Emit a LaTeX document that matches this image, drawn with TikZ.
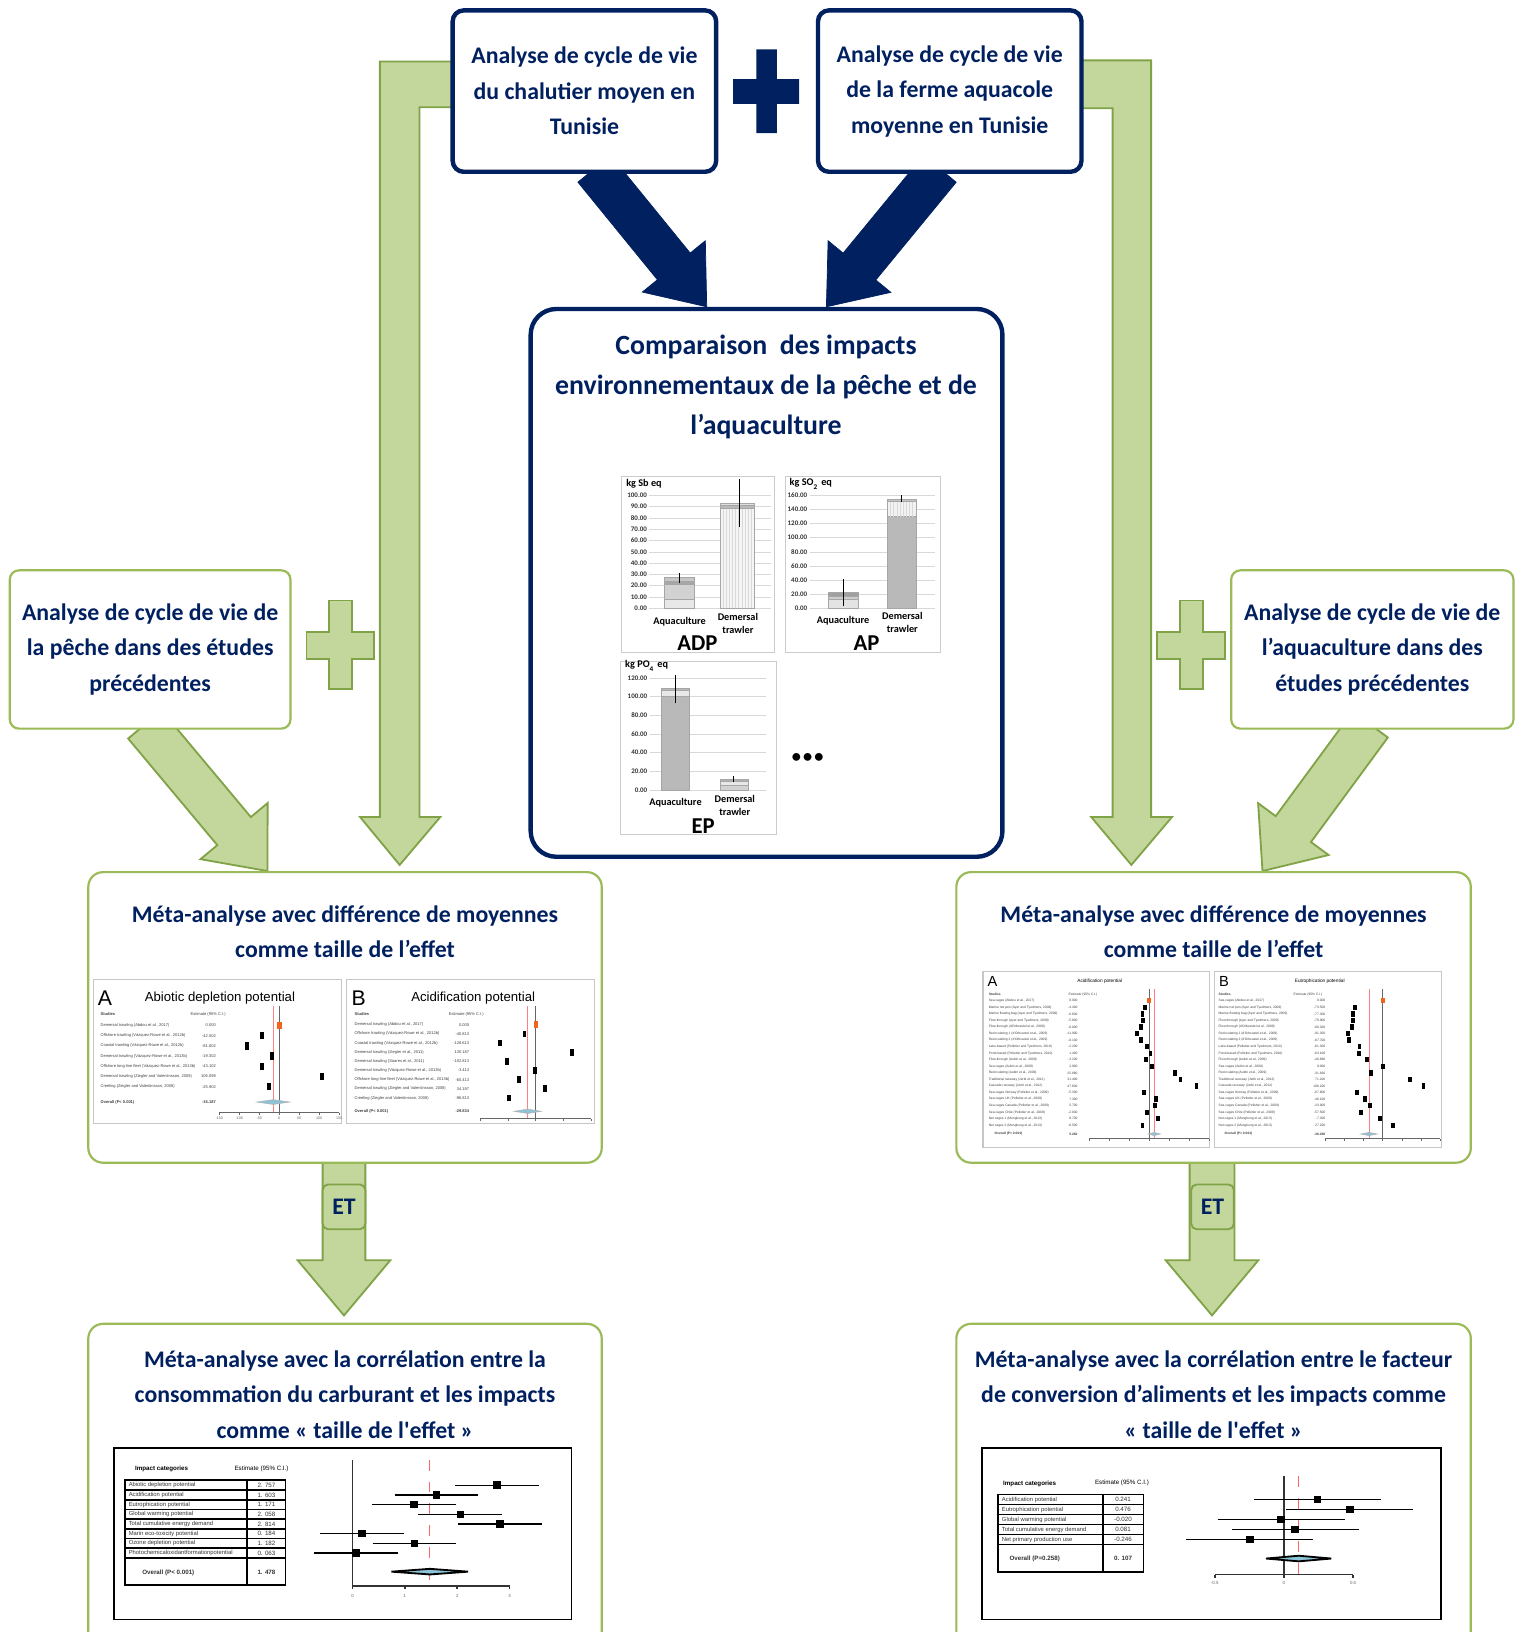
\documentclass[tikz,border=0pt]{standalone}
\usepackage{fontspec}
\setmainfont{Carlito}
\newfontfamily\plotfont{Liberation Sans}
\usetikzlibrary{positioning,calc,backgrounds}

\definecolor{navy}{RGB}{0,32,96}
\definecolor{leaf}{RGB}{195,214,155}
\definecolor{leafline}{RGB}{128,163,72}
\definecolor{boxline}{RGB}{155,187,89}
\definecolor{dotorange}{RGB}{240,100,30}
\definecolor{diamondblue}{RGB}{140,195,215}

\newcommand{\cardfont}{\fontsize{6.5}{9.7}\selectfont\bfseries}
\newcommand{\bigcardfont}{\fontsize{7.6}{10.95}\selectfont\bfseries}
% style, start, tip, half shaft, half head, head length
\newcommand{\blockarrow}[6]{%
  \coordinate (ba-back) at ($(#3)!#6!(#2)$);
  \filldraw[#1] ($(#2)!#4!90:(#3)$) -- ($(ba-back)!#4!90:(#3)$) -- ($(ba-back)!#5!90:(#3)$)
    -- (#3) -- ($(ba-back)!#5!-90:(#3)$) -- ($(ba-back)!#4!-90:(#3)$) -- ($(#2)!#4!-90:(#3)$) -- cycle;}

\tikzset{
  navybox/.style={draw=navy, line width=1.2pt, fill=white, rounded corners=3pt, text=navy, font=\cardfont, align=center},
  greenbox/.style={draw=boxline, line width=0.6pt, fill=white, rounded corners=2.5pt, text=navy, font=\cardfont, align=center},
  boxtitle/.style={text=navy, font=\cardfont, align=center},
  navyarrow/.style={fill=navy, draw=navy, line width=0.2pt},
  greenarrow/.style={fill=leaf, draw=leafline, line width=0.5pt},
  etbox/.style={fill=leaf, draw=leafline, line width=0.5pt, rounded corners=1.5pt, text=navy, font=\cardfont, inner sep=0pt},
  chartframe/.style={draw=gray!40, fill=white, line width=0.3pt},
  gridline/.style={draw=gray!30, line width=0.15pt},
  barline/.style={draw=gray!70, line width=0.15pt},
  errbar/.style={draw=black, line width=0.3pt},
  charttick/.style={font=\fontsize{1.9}{2.2}\selectfont\bfseries, text=black!80, inner sep=0.5pt, anchor=east},
  chartcat/.style={font=\fontsize{2.8}{3.4}\selectfont\bfseries, align=center, inner sep=0pt},
  chartunit/.style={font=\fontsize{2.8}{3}\selectfont\bfseries, anchor=west, inner sep=0pt},
  chartname/.style={font=\fontsize{6.2}{7}\selectfont\bfseries, inner sep=0pt},
  plotframe/.style={draw=gray!45, fill=white, line width=0.3pt},
  panelletter/.style={font=\plotfont\fontsize{5.8}{6}\selectfont, inner sep=0pt},
  paneltitle/.style={font=\plotfont\fontsize{3.6}{4}\selectfont, inner sep=0pt},
  plothead/.style={font=\plotfont\fontsize{1.1}{1.3}\selectfont, text=black!75, inner sep=0pt},
  studyname/.style={plothead, anchor=west},
  studyvalue/.style={plothead, anchor=east},
  smallname/.style={font=\plotfont\fontsize{0.9}{1.1}\selectfont, text=black!75, inner sep=0pt, anchor=west},
  smallvalue/.style={smallname, anchor=east},
  axistick/.style={font=\plotfont\fontsize{1}{1.2}\selectfont, text=black!60, inner sep=0pt},
  zeroline/.style={draw=black!60, line width=0.25pt},
  redline/.style={draw=red!50, line width=0.2pt},
  summary/.style={fill=diamondblue, draw=gray!60, line width=0.15pt},
  tableline/.style={draw=black, line width=0.45pt},
  ciline/.style={draw=black, line width=0.35pt},
  tablehead/.style={font=\plotfont\fontsize{1.7}{2}\selectfont, inner sep=0pt},
  tablename/.style={font=\plotfont\fontsize{1.6}{1.9}\selectfont, text=black!80, inner sep=0pt, anchor=west},
  tablevalue/.style={font=\plotfont\fontsize{1.7}{2}\selectfont, text=black!80, inner sep=0pt}
}

\begin{document}
\begin{tikzpicture}[x=0.01cm, y=-0.01cm]
\useasboundingbox (0,0) rectangle (1459,1568);
\clip (0,0) rectangle (1459,1568);

\node[navybox, minimum width=2.53cm, minimum height=1.55cm] (chalutier) at (561.5,87.5) {Analyse de cycle de vie\\du chalutier moyen en\\Tunisie};
\node[navybox, minimum width=2.53cm, minimum height=1.55cm] (ferme) at (912.5,87.5) {Analyse de cycle de vie\\de la ferme aquacole\\moyenne en Tunisie};

\node[navybox, rounded corners=7pt, minimum width=4.53cm, minimum height=5.26cm] (cmp) at (736.5,560) {};
\node[boxtitle, font=\bigcardfont] (cmptitle) at (736,372) {Comparaison\ \ des impacts\\environnementaux de la pêche et de\\l’aquaculture};

\node[greenbox, minimum width=2.685cm, minimum height=1.52cm] (pechebox) at (144.25,624) {Analyse de cycle de vie de\\la pêche dans des études\\précédentes};
\node[greenbox, minimum width=2.71cm, minimum height=1.52cm] (aquabox) at (1318.5,624) {Analyse de cycle de vie de\\l’aquaculture dans des\\études précédentes};

\node[greenbox, rounded corners=4pt, minimum width=4.93cm, minimum height=2.79cm] (metaleft) at (331.5,977.5) {};
\node[boxtitle] (metalefttitle) at (331.5,895) {Méta-analyse avec différence\ de moyennes\\comme taille\ de l’effet};
\node[greenbox, rounded corners=4pt, minimum width=4.94cm, minimum height=2.79cm] (metaright) at (1166,977.5) {};
\node[boxtitle] (metarighttitle) at (1166,895) {Méta-analyse avec différence\ de moyennes\\comme taille\ de l’effet};

\node[greenbox, rounded corners=4pt, minimum width=4.93cm, minimum height=3.4cm] (corrleft) at (331.5,1442) {};
\node[boxtitle] (corrlefttitle) at (331.5,1340) {Méta-analyse avec la corrélation entre la\\consommation du carburant et les impacts\\comme « taille\ de l\textquotesingle effet »};
\node[greenbox, rounded corners=4pt, minimum width=4.94cm, minimum height=3.4cm] (corrright) at (1166,1442) {};
\node[boxtitle] (corrrighttitle) at (1166,1340) {Méta-analyse avec la corrélation entre le facteur\\de conversion d’aliments et les impacts comme\\« taille\ de l\textquotesingle effet »};

% plus signs
\fill[navy] (726.7,47.4) rectangle (746.3,128) (704.4,75.9) rectangle (767.7,99.9);
\filldraw[greenarrow] (316,577) -- (338,577) -- (338,607) -- (359,607) -- (359,633) -- (338,633) -- (338,662)
  -- (316,662) -- (316,633) -- (294.5,633) -- (294.5,607) -- (316,607) -- cycle;
\filldraw[greenarrow] (1133.4,577) -- (1155.8,577) -- (1155.8,607) -- (1177,607) -- (1177,633) -- (1155.8,633) -- (1155.8,662)
  -- (1133.4,662) -- (1133.4,633) -- (1112,633) -- (1112,607) -- (1133.4,607) -- cycle;

\node[etbox, minimum width=0.41cm, minimum height=0.43cm] (etleft) at (330.5,1159.5) {ET};
\node[etbox, minimum width=0.41cm, minimum height=0.43cm] (etright) at (1165,1159.5) {ET};

\begin{pgfonlayer}{background}
\fill[white] (0,0) rectangle (1459,1568);
\filldraw[greenarrow] (450,59) -- (365,59) -- (365,785) -- (346,785) -- (384,831) -- (423,785) -- (403,785) -- (403,103) -- (450,103) -- cycle;
\filldraw[greenarrow] (1025,58) -- (1106,58) -- (1106,785) -- (1126,785) -- (1087,831) -- (1048.5,785) -- (1069,785) -- (1069,104) -- (1025,104) -- cycle;

\coordinate (navyL-s) at ($(chalutier.south)+(9.5,-5)$);
\coordinate (navyL-t) at ($(cmp.north)+(-57.5,0)$);
\coordinate (navyR-s) at ($(ferme.south)+(-9.5,-5)$);
\coordinate (navyR-t) at ($(cmp.north)+(57.5,0)$);
\blockarrow{navyarrow}{navyL-s}{navyL-t}{0.203cm}{0.39cm}{0.5cm}
\blockarrow{navyarrow}{navyR-s}{navyR-t}{0.203cm}{0.39cm}{0.5cm}

\coordinate (pecheL-s) at ($(pechebox.south)+(-5,-5)$);
\coordinate (pecheL-t) at ($(metaleft.north)+(-74.5,0)$);
\coordinate (aquaR-s) at ($(aquabox.south)+(-2,-5)$);
\coordinate (aquaR-t) at ($(metaright.north)+(47,0)$);
\blockarrow{greenarrow}{pecheL-s}{pecheL-t}{0.21cm}{0.42cm}{0.5cm}
\blockarrow{greenarrow}{aquaR-s}{aquaR-t}{0.21cm}{0.42cm}{0.5cm}

\coordinate (etL-s) at ($(metaleft.south)+(-1,-3)$);
\coordinate (etL-t) at ($(corrleft.north)+(-1,-7)$);
\coordinate (etR-s) at ($(metaright.south)+(-1.5,-3)$);
\coordinate (etR-t) at ($(corrright.north)+(-1.5,-7)$);
\blockarrow{greenarrow}{etL-s}{etL-t}{0.205cm}{0.445cm}{0.53cm}
\blockarrow{greenarrow}{etR-s}{etR-t}{0.215cm}{0.445cm}{0.53cm}
\end{pgfonlayer}

% ADP chart
\node[chartframe, minimum width=1.47cm, minimum height=1.69cm] (adpchart) at (670.5,542.5) {};
\begin{scope}[shift={(0,584.3)}, yscale=-1.083]
\foreach \t in {0,10,...,100} {
  \draw[gridline] (624,\t) -- (741,\t);
  \node[charttick] (adptick-\t) at (624,\t) {\t.00};
}
\filldraw[barline, fill=gray!18] (638.7,0) rectangle (667.5,8);
\filldraw[barline, fill=gray!35] (638.7,8) rectangle (667.5,21);
\filldraw[barline, fill=gray!70] (638.7,21) rectangle (667.5,24);
\filldraw[barline, fill=gray!45] (638.7,24) rectangle (667.5,27);
\filldraw[barline, fill=gray!8] (691.6,0) rectangle (724.5,89);
\foreach \x in {694.6,697.6,...,722} \draw[gray!30, line width=0.1pt] (\x,0) -- (\x,89);
\filldraw[barline, fill=gray!55] (691.6,89) rectangle (724.5,91);
\filldraw[barline, fill=gray!25] (691.6,91) rectangle (724.5,93);
\draw[errbar] (653,22) -- (653,31);
\draw[errbar] (710.8,72) -- (710.8,115);
\end{scope}
\node[chartunit] (adpunit) at (601,465) {kg Sb eq};
\node[chartcat] (adpaqua) at (653,597) {Aquaculture};
\node[chartcat] (adpdem) at (709,599) {Demersal\\trawler};
\node[chartname] (adpname) at (670,618) {ADP};

% AP chart
\node[chartframe, minimum width=1.485cm, minimum height=1.69cm] (apchart) at (829.25,542.5) {};
\begin{scope}[shift={(0,584.3)}, yscale=-0.677]
\foreach \t in {0,20,...,160} {
  \draw[gridline] (778,\t) -- (898,\t);
  \node[charttick] (aptick-\t) at (778,\t) {\t.00};
}
\filldraw[barline, fill=gray!22] (795.6,0) rectangle (824.4,12);
\filldraw[barline, fill=gray!40] (795.6,12) rectangle (824.4,17);
\filldraw[barline, fill=gray!75] (795.6,17) rectangle (824.4,22);
\filldraw[barline, fill=gray!55] (852.6,0) rectangle (880.5,130);
\filldraw[barline, fill=gray!10] (852.6,130) rectangle (880.5,152);
\foreach \x in {855.6,858.6,...,879} \draw[gray!30, line width=0.1pt] (\x,130) -- (\x,152);
\filldraw[barline, fill=gray!45] (852.6,152) rectangle (880.5,155);
\draw[errbar] (810,3) -- (810,41);
\draw[errbar] (866.5,150) -- (866.5,160);
\end{scope}
\node[chartunit] (apunit) at (758,465) {kg SO\textsubscript{2} eq};
\node[chartcat] (apaqua) at (810,596) {Aquaculture};
\node[chartcat] (apdem) at (867,598) {Demersal\\trawler};
\node[chartname] (apname) at (832.5,618) {AP};

% EP chart
\node[chartframe, minimum width=1.495cm, minimum height=1.665cm] (epchart) at (671.25,718.75) {};
\begin{scope}[shift={(0,758.8)}, yscale=-0.894]
\foreach \t in {0,20,...,120} {
  \draw[gridline] (624.3,\t) -- (736.4,\t);
  \node[charttick] (eptick-\t) at (624.3,\t) {\t.00};
}
\filldraw[barline, fill=gray!55] (635.5,0) rectangle (662.7,100);
\filldraw[barline, fill=gray!18] (635.5,100) rectangle (662.7,107);
\filldraw[barline, fill=gray!55] (635.5,107) rectangle (662.7,109);
\filldraw[barline, fill=gray!35] (691.6,0) rectangle (718.8,5);
\filldraw[barline, fill=gray!18] (691.6,5) rectangle (718.8,9);
\filldraw[barline, fill=gray!60] (691.6,9) rectangle (718.8,11);
\draw[errbar] (649,93) -- (649,123);
\draw[errbar] (705,8) -- (705,15);
\end{scope}
\node[chartunit] (epunit) at (600,640) {kg PO\textsubscript{4} eq};
\node[chartcat] (epaqua) at (649,771.6) {Aquaculture};
\node[chartcat] (epdem) at (706,774) {Demersal\\trawler};
\node[chartname] (epname) at (675.5,794) {EP};
\node[font=\fontsize{5}{6}\selectfont\bfseries] (more) at (776,728) {\textbullet\hspace{0.6pt}\textbullet\hspace{0.6pt}\textbullet};

% forest plot: abiotic depletion
\node[plotframe, minimum width=2.386cm, minimum height=1.377cm] (adpforest) at (208.9,1010.15) {};
\node[panelletter] (adpletter) at (100.9,958.9) {A};
\node[paneltitle] (adptitle) at (211.3,958.9) {Abiotic depletion potential};
\node[studyname] (adphead) at (96,974) {\textbf{Studies}};
\node[plothead] (adpest) at (200,975) {Estimate (95\% C.I.)};
\draw[zeroline] (268.3,967) -- (268.3,1069);
\draw[redline] (262.5,967) -- (262.5,1069);
\draw[zeroline] (210.7,1069) -- (325.9,1069);
\foreach \t in {-150,-100,...,150} {
  \draw[zeroline] ({268.3+0.384*\t},1069) -- ++(0,2);
  \node[axistick] (adpaxis\t) at ({268.3+0.384*\t},1074) {\t};
}
\foreach \n/\val [count=\i] in {{Demersal trawling (Abdou et al., 2017)}/0.000, {Offshore trawling (Vázquez-Rowe et al., 2012b)}/-42.502,
  {Coastal trawling (Vázquez-Rowe et al., 2012b)}/-81.602, {Demersal trawling (Vázquez-Rowe et al., 2013b)}/-19.302,
  {Offshore long-line fleet (Vázquez-Rowe et al., 2013b)}/-43.102, {Demersal trawling (Ziegler and Valentinsson, 2008)}/106.098,
  {Creeling (Ziegler and Valentinsson, 2008)}/-25.902} {
  \pgfmathsetmacro\ry{985.2+9.83*(\i-1)}
  \pgfmathsetmacro\rx{268.3+0.384*\val}
  \node[studyname] (adps-\i) at (96,\ry) {\n};
  \node[studyvalue] (adpv-\i) at (208,\ry) {\val};
  \fill ({\rx-1.9},{\ry-3.5}) rectangle ++(3.8,7);
}
\fill[dotorange] (266.1,981.7) rectangle ++(4.4,7);
\node[studyname] (adpall) at (96,1058.8) {\textbf{Overall (P< 0.001)}};
\node[studyvalue] (adpallv) at (208,1058.8) {\textbf{-15.187}};
\filldraw[summary] (246.5,1058.8) -- (262.5,1056.5) -- (278.5,1058.8) -- (262.5,1061.1) -- cycle;

% forest plot: acidification (fishing)
\node[plotframe, minimum width=2.385cm, minimum height=1.377cm] (apforest) at (452.25,1010.15) {};
\node[panelletter] (apletter) at (344.6,958.9) {B};
\node[paneltitle] (aptitle) at (454.6,958.9) {Acidification potential};
\node[studyname] (aphead) at (340,974) {\textbf{Studies}};
\node[plothead] (apest) at (448,975) {Estimate (95\% C.I.)};
\draw[zeroline] (514.8,967) -- (514.8,1074.8);
\draw[redline] (506.9,967) -- (506.9,1074.8);
\draw[zeroline] (461.6,1074.8) -- (568,1074.8);
\foreach \t in {-200,-100,...,200} {
  \draw[zeroline] ({514.8+0.266*\t},1074.8) -- ++(0,2);
}
\foreach \n/\val [count=\i] in {{Demersal trawling (Abdou et al., 2017)}/0.000, {Offshore trawling (Vázquez-Rowe et al., 2012b)}/-40.813,
  {Coastal trawling (Vázquez-Rowe et al., 2012b)}/-128.613, {Demersal trawling (Ziegler et al., 2011)}/130.187,
  {Demersal trawling (Soares et al., 2011)}/-102.813, {Demersal trawling (Vázquez-Rowe et al., 2013b)}/-3.413,
  {Offshore long-line fleet (Vázquez-Rowe et al., 2013b)}/-60.413, {Demersal trawling (Ziegler and Valentinsson, 2008)}/34.187,
  {Creeling (Ziegler and Valentinsson, 2008)}/-96.813} {
  \pgfmathsetmacro\ry{984.5+8.8*(\i-1)}
  \pgfmathsetmacro\rx{514.8+0.266*\val}
  \node[studyname] (aps-\i) at (340,\ry) {\n};
  \node[studyvalue] (apv-\i) at (451.5,\ry) {\val};
  \fill ({\rx-1.8},{\ry-3.2}) rectangle ++(3.6,6.4);
}
\fill[dotorange] (512.6,981.3) rectangle ++(4.4,6.4);
\node[studyname] (apall) at (340,1067.7) {\textbf{Overall (P< 0.001)}};
\node[studyvalue] (apallv) at (451.5,1067.7) {\textbf{-29.834}};
\filldraw[summary] (493.9,1067.7) -- (506.9,1065.6) -- (519.9,1067.7) -- (506.9,1069.8) -- cycle;

% forest plots: aquaculture
\node[plotframe, minimum width=2.177cm, minimum height=1.69cm] (acforest) at (1053.35,1017.5) {};
\node[plotframe, minimum width=2.177cm, minimum height=1.69cm] (euforest) at (1275.85,1017.5) {};
\node[panelletter, font=\plotfont\fontsize{4}{4}\selectfont] (acletter) at (953.5,943) {A};
\node[paneltitle, font=\plotfont\fontsize{1.3}{1.5}\selectfont] (actitle) at (1056.6,943) {Acidification potential};
\node[panelletter, font=\plotfont\fontsize{4}{4}\selectfont] (euletter) at (1176,943) {B};
\node[paneltitle, font=\plotfont\fontsize{1.3}{1.5}\selectfont] (eutitle) at (1268,943) {Eutrophication potential};
\node[smallname] (achead) at (949.3,955.5) {\textbf{Studies}};
\node[smallname, anchor=center] (acest) at (1040.5,955.5) {Estimate (95\% C.I.)};
\node[smallname] (euhead) at (1170.2,955.5) {\textbf{Studies}};
\node[smallname, anchor=center] (euest) at (1256.7,955.5) {Estimate (95\% C.I.)};
\draw[zeroline] (1104,950) -- (1104,1094);
\draw[redline] (1109.1,950) -- (1109.1,1094);
\draw[zeroline] (1046.4,1094) -- (1161.6,1094);
\foreach \t in {-60,-40,...,60} \draw[zeroline] ({1104+0.96*\t},1094) -- ++(0,2);
\draw[zeroline] (1328.7,950) -- (1328.7,1094);
\draw[redline] (1315.3,950) -- (1315.3,1094);
\draw[zeroline] (1273.5,1094) -- (1383.9,1094);
\foreach \t in {-150,-100,...,150} \draw[zeroline] ({1328.7+0.368*\t},1094) -- ++(0,2);
\foreach \n/\va/\vb [count=\i] in {
  {Sea cages (Abdou et al., 2017)}/0.000/0.000, {Marine net pen (Ayer and Tyedmers, 2009)}/-4.400/-73.500,
  {Marine floating bag (Ayer and Tyedmers, 2009)}/-6.600/-77.300, {Flow-through (Ayer and Tyedmers, 2009)}/-5.800/-78.900,
  {Flow-through (d'Orbcastel et al., 2009)}/-8.000/-80.300, {Recirculating 1 (d'Orbcastel et al., 2009)}/-11.900/-91.300,
  {Recirculating 2 (d'Orbcastel et al., 2009)}/-8.100/-87.700, {Lake-based (Pelletier and Tyedmers, 2010)}/-2.200/-61.300,
  {Pond-based (Pelletier and Tyedmers, 2010)}/1.400/-63.100, {Flow-through (Aubin et al., 2009)}/-3.230/-40.890,
  {Sea cages (Aubin et al., 2009)}/2.900/0.000, {Recirculating (Aubin et al., 2009)}/25.880/-31.830,
  {Traditional raceway (Jerbi et al., 2012)}/31.400/71.200, {Cascade raceway (Jerbi et al., 2012)}/47.600/106.200,
  {Sea cages Norway (Pelletier et al., 2009)}/-5.300/-67.800, {Sea cages UK (Pelletier et al., 2009)}/7.300/-46.100,
  {Sea cages Canada (Pelletier et al., 2009)}/5.700/-33.900, {Sea cages Chile (Pelletier et al., 2009)}/-2.000/-57.500,
  {Net cages 1 (Mungkung et al., 2013)}/8.700/-7.300, {Net cages 2 (Mungkung et al., 2013)}/-6.500/27.200} {
  \pgfmathsetmacro\ry{961.5+6.3*(\i-1)}
  \pgfmathsetmacro\xa{1104+0.96*\va}
  \pgfmathsetmacro\xb{1328.7+0.368*\vb}
  \node[smallname] (acs-\i) at (949.3,\ry) {\n};
  \node[smallvalue] (acv-\i) at (1036,\ry) {\va};
  \node[smallname] (eus-\i) at (1170.2,\ry) {\n};
  \node[smallvalue] (euv-\i) at (1274,\ry) {\vb};
  \fill ({\xa-1.8},{\ry-2.6}) rectangle ++(3.6,5.2);
  \fill ({\xb-1.8},{\ry-2.6}) rectangle ++(3.6,5.2);
}
\fill[dotorange] (1101.8,958.9) rectangle ++(4.4,5.2);
\fill[dotorange] (1326.5,958.9) rectangle ++(4.4,5.2);
\node[smallname] (acall) at (955,1089.5) {\textbf{Overall (P< 0.001)}};
\node[smallvalue] (acallv) at (1036,1089.5) {\textbf{5.282}};
\filldraw[summary] (1103,1089.5) -- (1109,1088) -- (1115,1089.5) -- (1109,1091) -- cycle;
\node[smallname] (euall) at (1176,1089.5) {\textbf{Overall (P< 0.001)}};
\node[smallvalue] (euallv) at (1274,1089.5) {\textbf{-36.298}};
\filldraw[summary] (1307.3,1089.5) -- (1315.3,1088) -- (1323.3,1089.5) -- (1315.3,1091) -- cycle;

% correlation plot: fuel consumption
\node[plotframe, draw=black, line width=0.5pt, minimum width=4.395cm, minimum height=1.65cm] (fuelplot) at (329.25,1473.5) {};
\node[tablehead] (fuelhead) at (155.3,1411.3) {\textbf{Impact categories}};
\node[tablehead] (fuelest) at (251.3,1411.3) {Estimate (95\% C.I.)};
\draw[tableline] (120,1422.2) rectangle (274.4,1523);
\draw[tableline] (237.6,1422.2) -- (237.6,1523);
\foreach \k in {1,...,8} \draw[tableline] (120,{1422.2+9.33*\k}) -- (274.4,{1422.2+9.33*\k});
\draw[zeroline, draw=black!80, line width=0.4pt] (338.7,1402.3) -- (338.7,1524);
\draw[red!60, dashed, line width=0.3pt] (413,1402.3) -- (413,1524);
\draw[zeroline, draw=black!80, line width=0.4pt] (338.7,1524) -- (489.6,1524);
\foreach \t in {0,1,2,3} {
  \draw[black!80, line width=0.4pt] ({338.7+50.3*\t},1524) -- ++(0,3);
  \node[axistick, font=\plotfont\fontsize{1.2}{1.4}\selectfont] (fuelaxis\t) at ({338.7+50.3*\t},1533.6) {\t};
}
\foreach \n/\val/\lab [count=\i] in {{Abiotic depletion potential}/2.757/{2. 757}, {Acidification potential}/1.603/{1. 603},
  {Eutrophication potential}/1.171/{1. 171}, {Global warming potential}/2.058/{2. 058},
  {Total cumulative energy demand}/2.814/{2. 814}, {Marin eco-toxicity potential}/0.184/{0. 184},
  {Ozone depletion potential}/1.182/{1. 182}, {Photochemicaloxidantformationpotential}/0.063/{0. 063}} {
  \pgfmathsetmacro\ry{1426.9+9.33*(\i-1)}
  \pgfmathsetmacro\rx{338.7+50.3*\val}
  \node[tablename] (fuels-\i) at (123,\ry) {\n};
  \node[tablevalue] (fuelv-\i) at (256,\ry) {\lab};
  \draw[ciline] ({\rx-40.2},\ry) -- ({\rx+40.2},\ry);
  \fill ({\rx-3.6},{\ry-3.6}) rectangle ++(7.2,7.2);
}
\node[tablevalue] (fuelall) at (161.7,1511) {\textbf{Overall (P< 0.001)}};
\node[tablevalue] (fuelallv) at (256,1511) {\textbf{1. 478}};
\filldraw[fill=diamondblue, draw=black, line width=0.5pt] (376.2,1510) -- (413,1507.3) -- (449.8,1510) -- (413,1512.7) -- cycle;

% correlation plot: feed conversion
\node[plotframe, draw=black, line width=0.5pt, minimum width=4.405cm, minimum height=1.65cm] (feedplot) at (1163.75,1473.5) {};
\node[tablehead] (feedhead) at (989.3,1426) {\textbf{Impact categories}};
\node[tablehead] (feedest) at (1078,1424.7) {Estimate (95\% C.I.)};
\draw[tableline] (959,1436) rectangle (1098.8,1510.2);
\draw[tableline] (1059.8,1436) -- (1059.8,1510.2);
\foreach \k in {1,...,5} \draw[tableline] (959,{1436+9.6*\k}) -- (1098.8,{1436+9.6*\k});
\draw[zeroline, draw=black!80, line width=0.4pt] (1233.6,1417.7) -- (1233.6,1512.8);
\draw[red!60, dashed, line width=0.3pt] (1247.8,1417.7) -- (1247.8,1512.8);
\draw[zeroline, draw=black!80, line width=0.4pt] (1167.2,1512.8) -- (1300,1512.8);
\foreach \t in {-0.5,0,0.5} {
  \draw[black!80, line width=0.4pt] ({1233.6+132.9*\t},1512.8) -- ++(0,3);
  \node[axistick, font=\plotfont\fontsize{1.2}{1.4}\selectfont] (feedaxis\t) at ({1233.6+132.9*\t},1521) {\t};
}
\foreach \n/\val [count=\i] in {{Acidification potential}/0.241, {Eutrophication potential}/0.476,
  {Global warming potential}/-0.020, {Total cumulative energy demand}/0.081, {Net primary production use}/-0.246} {
  \pgfmathsetmacro\ry{1440.8+9.6*(\i-1)}
  \pgfmathsetmacro\rx{1233.6+132.9*\val}
  \node[tablename] (feeds-\i) at (962,\ry) {\n};
  \node[tablevalue] (feedv-\i) at (1079,\ry) {\val};
  \draw[ciline] ({\rx-61},\ry) -- ({\rx+61},\ry);
  \fill ({\rx-3.6},{\ry-3.6}) rectangle ++(7.2,7.2);
}
\node[tablevalue] (feedall) at (994.1,1497.4) {\textbf{Overall (P=0.258)}};
\node[tablevalue] (feedallv) at (1079,1497.4) {\textbf{0. 107}};
\filldraw[fill=diamondblue, draw=black, line width=0.5pt] (1216.4,1497.4) -- (1247.8,1494.7) -- (1279.2,1497.4) -- (1247.8,1500.1) -- cycle;
\end{tikzpicture}
\end{document}
